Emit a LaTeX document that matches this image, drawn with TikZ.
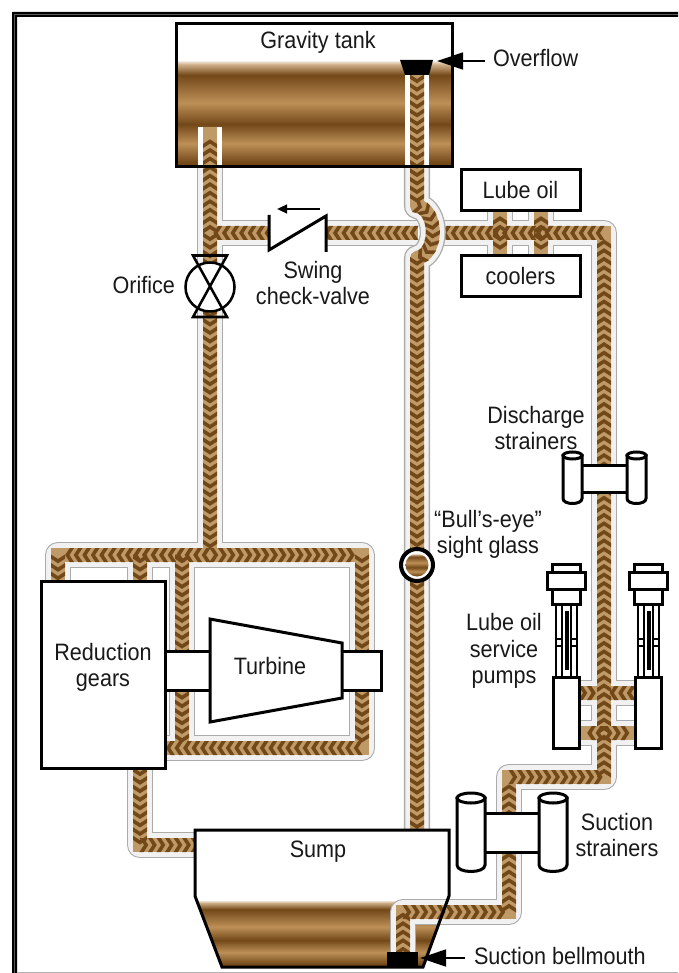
\documentclass[tikz,border=0pt]{standalone}
\usepackage{fontspec}
\setmainfont[FakeStretch=0.91]{Liberation Sans}
\usetikzlibrary{arrows.meta,decorations.markings}
\definecolor{oilD}{HTML}{734818}
\definecolor{oilL}{HTML}{BD9058}
\definecolor{oilBand}{HTML}{C09A66}
\definecolor{pipeEdge}{HTML}{ABABAB}
\definecolor{pipePale}{HTML}{F1F1F1}
\pgfdeclareverticalshading{oilbands}{100bp}{color(0bp)=(oilD); color(25bp)=(oilD); color(27bp)=(oilD); color(36bp)=(oilL); color(45bp)=(oilD); color(55bp)=(oilL); color(68bp)=(oilD); color(73bp)=(oilL!70!white); color(75bp)=(white); color(100bp)=(white)}
\tikzset{
  casing/.style={draw=pipePale,line width=17.6pt,line join=round,preaction={draw=pipeEdge,line width=19.6pt,line join=round}},
  oilbase/.style={draw=oilBand,line width=10.5pt,line cap=square,line join=miter},
  chev/.style={decorate,decoration={markings,mark=between positions 3pt and -3pt step 6.4pt with {\fill[oilD] (-3.4pt,-5.25pt)--(0pt,0pt)--(-3.4pt,5.25pt)--(-0.2pt,5.25pt)--(3.2pt,0pt)--(-0.2pt,-5.25pt)--cycle;}}},
  outline/.style={draw=black,line width=2.25pt,line join=miter},
  thinline/.style={draw=black,line width=1.9pt},
  lbl/.style={inner sep=0pt,outer sep=0pt,align=center,font=\fontsize{17.8}{19.7}\selectfont,text=black!90},
  boxnode/.style={outline,fill=white,inner sep=0pt,font=\fontsize{17.8}{19.7}\selectfont,text=black!90},
  pointer/.style={draw=black,line width=2pt,-{Triangle[length=19.5pt,width=12.5pt]}},
  smallpointer/.style={draw=black,line width=1.6pt,-{Triangle[length=7.5pt,width=6.5pt]}},
}
\newcommand{\strainercyl}[5]{%
  \pgfmathsetmacro\cylm{(#1+#2)/2}
  \pgfmathsetmacro\cylr{(#2-#1)/2}
  \draw[outline,fill=white] (#1,#3+#5) -- (#1,#4-#5-3) .. controls (#1,#4+#5/3-1) and (#2,#4+#5/3-1) .. (#2,#4-#5-3) -- (#2,#3+#5) -- cycle;
  \draw[outline,fill=white] (\cylm,#3+#5) ellipse [x radius=\cylr,y radius=#5];
}
\newcommand{\pumpunit}[1]{%
  \begin{scope}[shift={(#1,0)}]
    \draw[thinline] (556,604)--(556,677) (577,604)--(577,677) (562,604)--(562,677) (571,604)--(571,677);
    \draw[draw=black,line width=3pt] (566.5,611)--(566.5,670);
    \draw[thinline] (556,639)--(562,639) (556,646)--(562,646) (571,639)--(577,639) (571,646)--(577,646);
    \draw[outline,fill=white] (552,564) rectangle (580,572);
    \draw[outline,fill=white] (552,589) rectangle (580,604);
    \draw[outline,fill=white] (547,572) rectangle (585,589);
    \draw[outline,fill=white] (553,677) rectangle (579.5,748);
  \end{scope}
}
\begin{document}
\begin{tikzpicture}[x=0.75pt,y=-0.75pt]
\useasboundingbox (0,0) rectangle (678,973);
\fill[white] (0,0) rectangle (678,973);
% frame
\fill[black] (12,973) -- (12,12) -- (678,12) -- (678,17) -- (17,17) -- (17,973) -- cycle;
\draw[black!65,line width=0.5pt] (14.5,973) -- (14.5,14.5) -- (678,14.5);
\draw[black!30,line width=1pt] (17,972.3) -- (678,972.3);
% named points of the pipe network
\coordinate (tankLeftEnd) at (210,134);
\coordinate (tankLeftBottom) at (210,167);
\coordinate (teeCheck) at (210,233);
\coordinate (teeLube) at (210,555);
\coordinate (gearL) at (58,555);
\coordinate (gearLEnd) at (58,581);
\coordinate (gearM) at (140,555);
\coordinate (gearMEnd) at (140,581);
\coordinate (midT) at (182,555);
\coordinate (midB) at (182,748);
\coordinate (turbTR) at (362,555);
\coordinate (turbBR) at (362,748);
\coordinate (gearBR) at (165,748);
\coordinate (drainT) at (140,768);
\coordinate (drainC) at (140,845);
\coordinate (drainE) at (200,845);
\coordinate (hopL) at (418,233);
\coordinate (hopR) at (440,233);
\coordinate (coolA) at (500,233);
\coordinate (coolB) at (541,233);
\coordinate (coolAT) at (500,211);
\coordinate (coolAB) at (500,256);
\coordinate (coolBT) at (541,211);
\coordinate (coolBB) at (541,256);
\coordinate (dischC) at (604,233);
\coordinate (pumpUp) at (604,693);
\coordinate (pumpLo) at (604,733);
\coordinate (pumpUpL) at (579,693);
\coordinate (pumpUpR) at (635,693);
\coordinate (pumpLoL) at (579,733);
\coordinate (pumpLoR) at (635,733);
\coordinate (suctC1) at (604,777);
\coordinate (suctC2) at (509,777);
\coordinate (suctC3) at (509,912);
\coordinate (suctC4) at (403,912);
\coordinate (suctEnd) at (403,955);
\coordinate (ctrTop) at (417,75);
\coordinate (ctrTankBot) at (417,167);
\coordinate (ctrA) at (417,206);
\coordinate (ctrB) at (417,258);
\coordinate (ctrEnd) at (417,840);
% tanks, white and oil
\fill[white] (176,24) rectangle (452,167);
\shade[shading=oilbands] (177,60) rectangle (451,167);
\shade[shading=oilbands] (196,900) -- (448,900) -- (423,967) -- (222,967) -- cycle;
\fill[white] (198,127) rectangle (222,167);
\fill[white] (405,75) rectangle (429,167);
\fill[oilBand] (203,127) rectangle (217,140);
% casings of the pipes
\path[casing] (tankLeftBottom) -- (teeLube)
  (gearLEnd) -- (gearL) -- (turbTR) -- (turbBR) -- (gearBR)
  (gearM) -- (gearMEnd) (midT) -- (midB)
  (drainT) -- (drainC) -- (drainE)
  (teeCheck) -- (hopL)
  (hopR) -- (dischC) -- (suctC1) -- (suctC2) -- (suctC3) -- (suctC4) -- (suctEnd)
  (coolAT) -- (coolAB) (coolBT) -- (coolBB)
  (pumpUpL) -- (pumpUpR) (pumpLoL) -- (pumpLoR);
% oil in the pipes
\path[oilbase] (tankLeftEnd) -- (teeLube)
  (gearLEnd) -- (gearL) -- (turbTR) -- (turbBR) -- (gearBR)
  (gearM) -- (gearMEnd) (midT) -- (midB)
  (drainT) -- (drainC) -- (drainE)
  (teeCheck) -- (hopL)
  (hopR) -- (dischC) -- (suctC1) -- (suctC2) -- (suctC3) -- (suctC4) -- (suctEnd)
  (coolAT) -- (coolAB) (coolBT) -- (coolBB)
  (pumpUpL) -- (pumpUpR) (pumpLoL) -- (pumpLoR);
\path[chev] (teeCheck) -- (tankLeftEnd);
\path[chev] (teeCheck) -- (teeLube);
\path[chev] (teeLube) -- (gearL);
\path[chev] (gearL) -- (gearLEnd);
\path[chev] (gearM) -- (gearMEnd);
\path[chev] (teeLube) -- (turbTR);
\path[chev] (turbTR) -- (turbBR);
\path[chev] (midT) -- (midB);
\path[chev] (turbBR) -- (gearBR);
\path[chev] (drainT) -- (drainC);
\path[chev] (drainC) -- (drainE);
\path[chev] (hopL) -- (teeCheck);
\path[chev] (dischC) -- (hopR);
\path[chev] (suctEnd) -- (suctC4);
\path[chev] (suctC4) -- (suctC3);
\path[chev] (suctC3) -- (suctC2);
\path[chev] (suctC2) -- (suctC1);
\path[chev] (suctC1) -- (dischC);
\path[chev] (coolA) -- (coolAT);
\path[chev] (coolA) -- (coolAB);
\path[chev] (coolB) -- (coolBT);
\path[chev] (coolB) -- (coolBB);
\path[chev] (pumpUpL) -- (pumpUp);
\path[chev] (pumpUpR) -- (pumpUp);
\path[chev] (pumpLo) -- (pumpLoL);
\path[chev] (pumpLo) -- (pumpLoR);
% centre pipe with its hop over the cross pipe
\path[casing] (ctrTankBot) -- (ctrA) .. controls (438,210) and (438,254) .. (ctrB) -- (ctrEnd);
\path[oilbase,line cap=butt,line join=round] (ctrTop) -- (ctrA) .. controls (438,210) and (438,254) .. (ctrB) -- (ctrEnd);
\path[chev] (ctrTop) -- (ctrA) .. controls (438,210) and (438,254) .. (ctrB) -- (ctrEnd);
% sump
\fill[white] (195,830) rectangle (449,897);
\draw[outline] (195,830) -- (449,830) -- (449,896) -- (423,967) -- (222,967) -- (195,896) -- cycle;
\fill[black] (387,952) rectangle (418,967);
% gravity tank outline and overflow
\draw[outline] (176,24) rectangle (452,167);
\fill[black] (400,60) -- (433,60) -- (429,75) -- (405,75) -- cycle;
% lube oil coolers
\node[boxnode,minimum width=89.25pt,minimum height=30.75pt] (lube) at (520.5,190.5) {Lube oil};
\node[boxnode,minimum width=89.25pt,minimum height=30.75pt] (cool) at (520.5,276.5) {coolers};
% swing check-valve
\fill[white] (269,219) rectangle (326,247);
\draw[outline] (269,215) -- (269,250) -- (326,216) -- (326,252);
\coordinate (swA) at (320,209);
\coordinate (swB) at (277,209);
\draw[smallpointer] (swA) -- (swB);
% orifice
\draw[thinline,fill=white] (210,287) circle [radius=24.5];
\draw[thinline,line join=miter] (193,255.5) -- (227,255.5) -- (193,317) -- (227,317) -- cycle;
% sight glass
\draw[draw=black,line width=3pt,fill=white] (417,565) circle [radius=16];
\shade[shading=oilbands] (417,565) circle [radius=11.5];
% reduction gears and turbine
\draw[outline,fill=white] (165,651) rectangle (212,690);
\draw[outline,fill=white] (340,651) rectangle (381,690);
\draw[outline,fill=white] (41,581) rectangle (165,768);
\draw[outline,fill=white] (210,619) -- (342,643) -- (342,698) -- (210,722) -- cycle;
% strainers
\draw[outline,fill=white] (578,465) rectangle (630,492);
\strainercyl{563}{582}{452}{505}{3.5}
\strainercyl{627}{646}{452}{505}{3.5}
\draw[outline,fill=white] (482,813) rectangle (542,852);
\strainercyl{457}{485}{793}{873}{5}
\strainercyl{539}{567}{793}{873}{5}
% pumps
\pumpunit{0}
\pumpunit{82}
% labels
\node[lbl,anchor=base] (gravityLbl) at (318,49) {Gravity tank};
\node[lbl,anchor=base west] (overflowLbl) at (493,67) {Overflow};
\coordinate (overflowTip) at (437,61);
\coordinate (overflowTail) at (485,61);
\draw[pointer] (overflowTail) -- (overflowTip);
\node[lbl,anchor=base east] (orificeLbl) at (175,293) {Orifice};
\node[lbl] (swingLbl) at (313,283) {Swing\\check-valve};
\node[lbl] (dischLbl) at (536,428) {Discharge\\strainers};
\node[lbl] (bullLbl) at (488,534) {“Bull’s-eye”\\sight glass};
\node[lbl] (pumpLbl) at (504,651) {Lube oil\\service\\pumps};
\node[lbl] (suctLbl) at (617,835) {Suction\\strainers};
\node[lbl] (gearsLbl) at (103,667) {Reduction\\gears};
\node[lbl,anchor=base] (turbLbl) at (270,674) {Turbine};
\node[lbl,anchor=base] (sumpLbl) at (318,857) {Sump};
\node[lbl,anchor=base west] (bellLbl) at (474,964) {Suction bellmouth};
\coordinate (bellTip) at (420,958);
\coordinate (bellTail) at (465,958);
\draw[pointer] (bellTail) -- (bellTip);
\end{tikzpicture}
\end{document}
